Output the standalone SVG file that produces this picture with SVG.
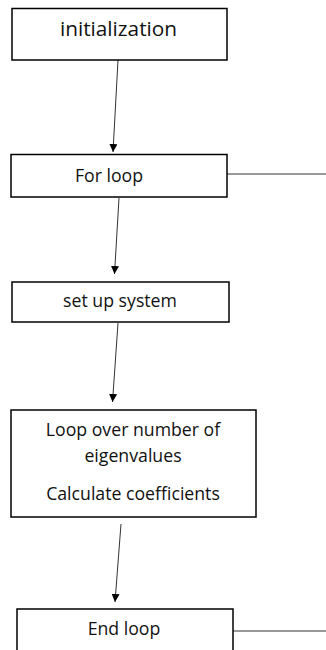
<svg xmlns="http://www.w3.org/2000/svg" width="326" height="650" viewBox="0 0 326 650">
<style>
.box{fill:#fff;stroke:#000;stroke-width:1.5}
.t{font-family:"Open Sans","Liberation Sans",sans-serif;fill:#111;text-anchor:middle;font-size:17.7px}
.c{stroke:#333;stroke-width:1;fill:none}
</style>
<defs>
<marker id="ah" viewBox="0 0 10 10" refX="10" refY="5" markerWidth="8" markerHeight="8" markerUnits="userSpaceOnUse" orient="auto">
<path d="M0,0 L10,5 L0,10 z" fill="#000"/>
</marker>
</defs>
<rect width="326" height="650" fill="#fff"/>
<g id="connectors">
<line class="c" x1="118" y1="60" x2="113" y2="152" marker-end="url(#ah)"/>
<line class="c" x1="119" y1="198" x2="114.5" y2="274" marker-end="url(#ah)"/>
<line class="c" x1="118" y1="323" x2="112.5" y2="402" marker-end="url(#ah)"/>
<line class="c" x1="121" y1="524" x2="115" y2="602" marker-end="url(#ah)"/>
<line class="c" x1="227" y1="174" x2="326" y2="174"/>
<line class="c" x1="233" y1="631" x2="326" y2="631"/>
</g>
<g id="n1"><rect class="box" x="12" y="8.5" width="215" height="51.5"/><text class="t" x="118.5" y="36" style="font-size:20.8px">initialization</text></g>
<g id="n2"><rect class="box" x="11" y="154.5" width="216" height="42.5"/><text class="t" x="109" y="182">For loop</text></g>
<g id="n3"><rect class="box" x="12" y="282" width="217" height="40"/><text class="t" x="120" y="307">set up system</text></g>
<g id="n4"><rect class="box" x="11" y="410" width="245" height="107"/>
<text class="t" x="133" y="436">Loop over number of</text>
<text class="t" x="133" y="462">eigenvalues</text>
<text class="t" x="133" y="500">Calculate coefficients</text></g>
<g id="n5"><rect class="box" x="17" y="609" width="216" height="50"/><text class="t" x="124" y="635">End loop</text></g>
</svg>
